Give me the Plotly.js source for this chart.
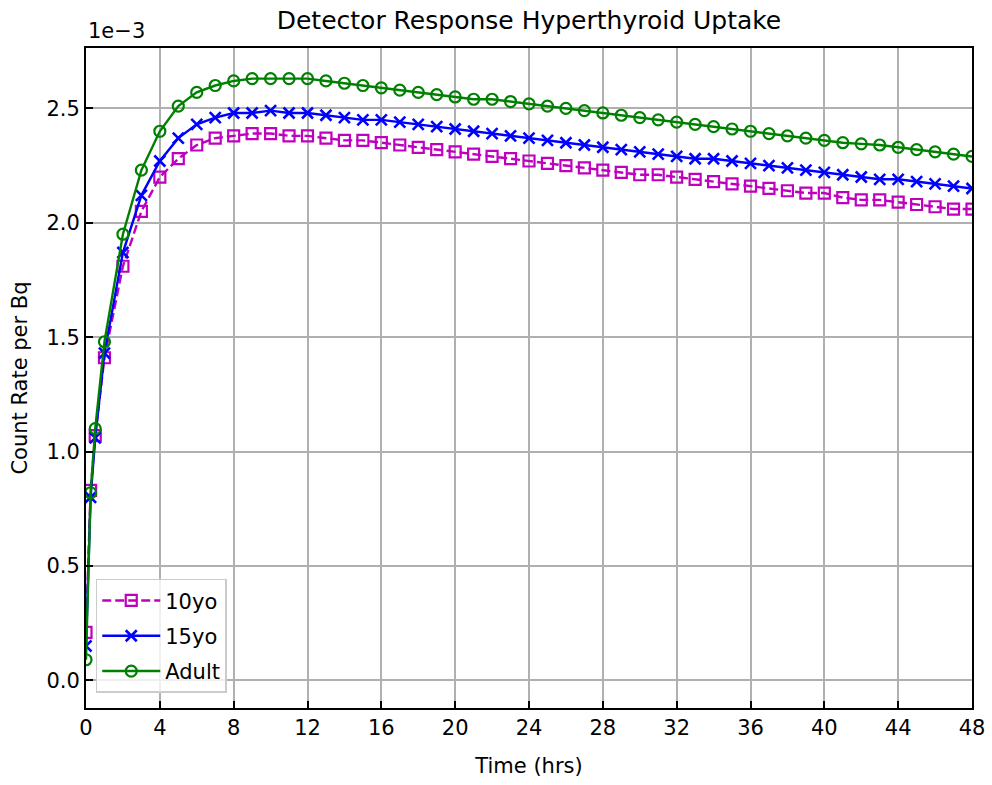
<!DOCTYPE html>
<html>
<head>
<meta charset="utf-8">
<script src="https://cdn.plot.ly/plotly-3.0.1.min.js"></script>
<style>
  html, body { margin: 0; padding: 0; background: #ffffff; }
  #chart { width: 992px; height: 785px; }
</style>
</head>
<body>
<div id="chart"></div>
<script>
// Time after administration (hours)
const hours = [0, 0.25, 0.5, 1, 2, 3, 4, 5, 6, 7, 8, 9, 10, 11, 12, 13, 14, 15, 16,
  17, 18, 19, 20, 21, 22, 23, 24, 25, 26, 27, 28, 29, 30, 31, 32, 33, 34, 35, 36,
  37, 38, 39, 40, 41, 42, 43, 44, 45, 46, 47, 48];

// Detector count rate per Bq, in units of 1e-3
const rate10yo = [0.21, 0.83, 1.07, 1.41, 1.81, 2.05, 2.20, 2.28, 2.34, 2.37, 2.38,
  2.39, 2.39, 2.38, 2.38, 2.37, 2.36, 2.36, 2.35, 2.34, 2.33, 2.32, 2.31, 2.30, 2.29,
  2.28, 2.27, 2.26, 2.25, 2.24, 2.23, 2.22, 2.21, 2.21, 2.20, 2.19, 2.18, 2.17, 2.16,
  2.15, 2.14, 2.13, 2.13, 2.11, 2.10, 2.10, 2.09, 2.08, 2.07, 2.06, 2.06];

const rate15yo = [0.15, 0.80, 1.06, 1.43, 1.87, 2.12, 2.27, 2.37, 2.43, 2.46, 2.48,
  2.48, 2.49, 2.48, 2.48, 2.47, 2.46, 2.45, 2.45, 2.44, 2.43, 2.42, 2.41, 2.40, 2.39,
  2.38, 2.37, 2.36, 2.35, 2.34, 2.33, 2.32, 2.31, 2.30, 2.29, 2.28, 2.28, 2.27, 2.26,
  2.25, 2.24, 2.23, 2.22, 2.21, 2.20, 2.19, 2.19, 2.18, 2.17, 2.16, 2.15];

const rateAdult = [0.09, 0.82, 1.10, 1.48, 1.95, 2.23, 2.40, 2.51, 2.57, 2.60, 2.62,
  2.63, 2.63, 2.63, 2.63, 2.62, 2.61, 2.60, 2.59, 2.58, 2.57, 2.56, 2.55, 2.54, 2.54,
  2.53, 2.52, 2.51, 2.50, 2.49, 2.48, 2.47, 2.46, 2.45, 2.44, 2.43, 2.42, 2.41, 2.40,
  2.39, 2.38, 2.37, 2.36, 2.35, 2.345, 2.34, 2.33, 2.32, 2.31, 2.30, 2.29];

const seriesNames = ['10yo', '15yo', 'Adult'];
const xTicks = [0, 4, 8, 12, 16, 20, 24, 28, 32, 36, 40, 44, 48];
const yTicks = [0.0, 0.5, 1.0, 1.5, 2.0, 2.5];
const yTickText = ['0.0', '0.5', '1.0', '1.5', '2.0', '2.5'];

const FONT = 'DejaVu Sans, sans-serif';

const traces = [
  {
    x: hours, y: rate10yo, name: seriesNames[0], legendgroup: 'g10', type: 'scatter', mode: 'lines+markers',
    line: { color: '#bf00bf', width: 2.4, dash: '9px,4px' },
    marker: { symbol: 'square-open', size: 11, color: '#bf00bf', line: { width: 2.2, color: '#bf00bf' } }
  },
  {
    x: hours, y: rate15yo, name: seriesNames[1], legendgroup: 'g15', type: 'scatter', mode: 'lines+markers',
    line: { color: '#0000ff', width: 2.4 },
    marker: { symbol: 'x-thin-open', size: 11, color: '#0000ff', line: { width: 2.6, color: '#0000ff' } }
  },
  {
    x: hours, y: rateAdult, name: seriesNames[2], legendgroup: 'gA', type: 'scatter', mode: 'lines+markers',
    line: { color: '#008000', width: 2.4 },
    marker: { symbol: 'circle-open', size: 11, color: '#008000', line: { width: 2.2, color: '#008000' } }
  }
];

const axisCommon = {
  showline: true, linecolor: '#000000', linewidth: 2, mirror: true,
  ticks: 'inside', ticklen: 7, tickwidth: 2, tickcolor: '#000000',
  showgrid: true, gridcolor: '#b0b0b0', gridwidth: 2,
  zeroline: false, tickfont: { family: FONT, size: 21, color: '#000000' }
};

const layout = {
  width: 992, height: 785,
  margin: { l: 86, r: 20, t: 48, b: 77 },
  paper_bgcolor: '#ffffff', plot_bgcolor: '#ffffff',
  font: { family: FONT, color: '#000000' },
  title: {
    text: 'Detector Response Hyperthyroid Uptake',
    font: { family: FONT, size: 25, color: '#000000' },
    x: 0.5, xref: 'paper', y: 0.974, yref: 'container', yanchor: 'middle'
  },
  xaxis: Object.assign({}, axisCommon, {
    range: [0, 48], tickvals: xTicks,
    title: { text: 'Time (hrs)', font: { family: FONT, size: 21 }, standoff: 19 }
  }),
  yaxis: Object.assign({}, axisCommon, {
    range: [-0.121, 2.764], tickvals: yTicks, ticktext: yTickText,
    title: { text: 'Count Rate per Bq', font: { family: FONT, size: 21 }, standoff: 13 }
  }),
  legend: {
    x: 0.011, y: 0.023, xanchor: 'left', yanchor: 'bottom',
    bgcolor: 'rgba(255,255,255,0.8)', bordercolor: '#cccccc', borderwidth: 1.5,
    font: { family: FONT, size: 21, color: '#000000' },
    itemwidth: 58, tracegroupgap: 5
  },
  annotations: [
    {
      text: '1e\u22123', xref: 'paper', yref: 'paper', x: 0, y: 1,
      xanchor: 'left', yanchor: 'bottom', yshift: 3, showarrow: false,
      font: { family: FONT, size: 21, color: '#000000' }
    }
  ],
  showlegend: true
};

Plotly.newPlot('chart', traces, layout, { displayModeBar: false, staticPlot: true });
</script>
</body>
</html>
